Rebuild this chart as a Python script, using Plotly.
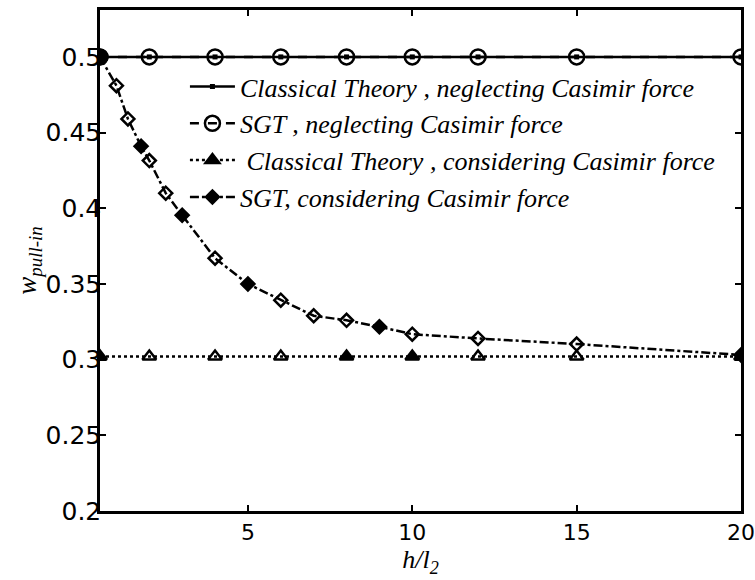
import plotly.graph_objects as go

# Pull-in deflection vs. normalized thickness h/l2
x_neglect = [0.5, 2, 4, 6, 8, 10, 12, 15, 20]
classical_neglect = [0.5, 0.5, 0.5, 0.5, 0.5, 0.5, 0.5, 0.5, 0.5]
sgt_neglect = [0.5, 0.5, 0.5, 0.5, 0.5, 0.5, 0.5, 0.5, 0.5]
classical_casimir = [0.302, 0.302, 0.302, 0.302, 0.302, 0.302, 0.302, 0.302, 0.302]

x_sgt_casimir = [0.5, 1, 1.35, 1.75, 2, 2.5, 3, 4, 5, 6, 7, 8, 9, 10, 12, 15, 20]
sgt_casimir = [0.5, 0.481, 0.459, 0.441, 0.4315, 0.41, 0.3954, 0.367, 0.35,
               0.3393, 0.329, 0.326, 0.3217, 0.3168, 0.314, 0.3103, 0.3031]

# marker fill pattern along the curves
tri_symbols = ["triangle-up", "triangle-up-open", "triangle-up-open", "triangle-up-open",
               "triangle-up", "triangle-up", "triangle-up-open", "triangle-up-open", "triangle-up"]
dia_symbols = ["diamond", "diamond-open", "diamond-open", "diamond", "diamond-open",
               "diamond-open", "diamond", "diamond-open", "diamond", "diamond-open",
               "diamond-open", "diamond-open", "diamond", "diamond-open", "diamond-open",
               "diamond-open", "diamond"]

y_ticks = [0.2, 0.25, 0.3, 0.35, 0.4, 0.45, 0.5]
y_tick_text = ["0.2", "0.25", "0.3", "0.35", "0.4", "0.45", "0.5"]
x_ticks = [5, 10, 15, 20]

labels = [
    "Classical Theory , neglecting Casimir force",
    "SGT , neglecting Casimir force",
    " Classical Theory , considering Casimir force",
    "SGT, considering Casimir force",
]

fig = go.Figure()

fig.add_trace(go.Scatter(
    x=x_neglect, y=classical_neglect, name=labels[0], mode="lines+markers",
    line=dict(color="black", width=2.5, dash="solid"),
    marker=dict(symbol="square", size=5, color="black", line=dict(width=0, color="black")),
))
fig.add_trace(go.Scatter(
    x=x_neglect, y=sgt_neglect, name=labels[1], mode="lines+markers",
    line=dict(color="black", width=2.5, dash="dash"),
    marker=dict(symbol="circle-open", size=15, color="black", line=dict(width=2.5, color="black")),
))
fig.add_trace(go.Scatter(
    x=x_neglect, y=classical_casimir, name=labels[2], mode="lines+markers",
    line=dict(color="black", width=2.5, dash="dot"),
    marker=dict(symbol=tri_symbols, size=12, color="black", line=dict(width=2.5, color="black")),
))
fig.add_trace(go.Scatter(
    x=x_sgt_casimir, y=sgt_casimir, name=labels[3], mode="lines+markers",
    line=dict(color="black", width=2.5, dash="dashdot"),
    marker=dict(symbol=dia_symbols, size=10, color="black", line=dict(width=2.5, color="black")),
))
# common starting point of the curves
fig.add_trace(go.Scatter(
    x=[x_neglect[0]], y=[sgt_neglect[0]], mode="markers", showlegend=False,
    marker=dict(symbol="circle", size=17, color="black", line=dict(width=0, color="black")),
))

axis_common = dict(
    showline=True, linecolor="black", linewidth=2.5, mirror="ticks",
    ticks="inside", ticklen=6, tickwidth=2, tickcolor="black",
    showgrid=False, zeroline=False, ticklabeloverflow="allow", automargin=False,
)

fig.update_layout(
    width=755, height=580,
    margin=dict(l=100, r=14, t=10, b=69),
    plot_bgcolor="white", paper_bgcolor="white",
    xaxis=dict(range=[0.5, 20], tickvals=x_ticks,
               tickfont=dict(family="DejaVu Sans", size=22, color="black"),
               title=dict(text="<i>h/l<sub>2</sub></i>", standoff=0,
                          font=dict(family="Liberation Serif", size=26, color="black")),
               **axis_common),
    yaxis=dict(range=[0.2, 0.531], tickvals=y_ticks, ticktext=y_tick_text,
               ticklabelstandoff=-9,
               tickfont=dict(family="DejaVu Sans", size=25, color="black"),
               title=dict(text="<i>w<sub>pull-in</sub></i>", standoff=0,
                          font=dict(family="Liberation Serif", size=27, color="black")),
               **axis_common),
    legend=dict(
        x=0.1325, y=0.894, xanchor="left", yanchor="top",
        bgcolor="rgba(0,0,0,0)", borderwidth=0, itemwidth=45,
        font=dict(family="Liberation Serif", size=26, color="black", style="italic"),
        tracegroupgap=0,
    ),
)

fig.write_html("out.html")
